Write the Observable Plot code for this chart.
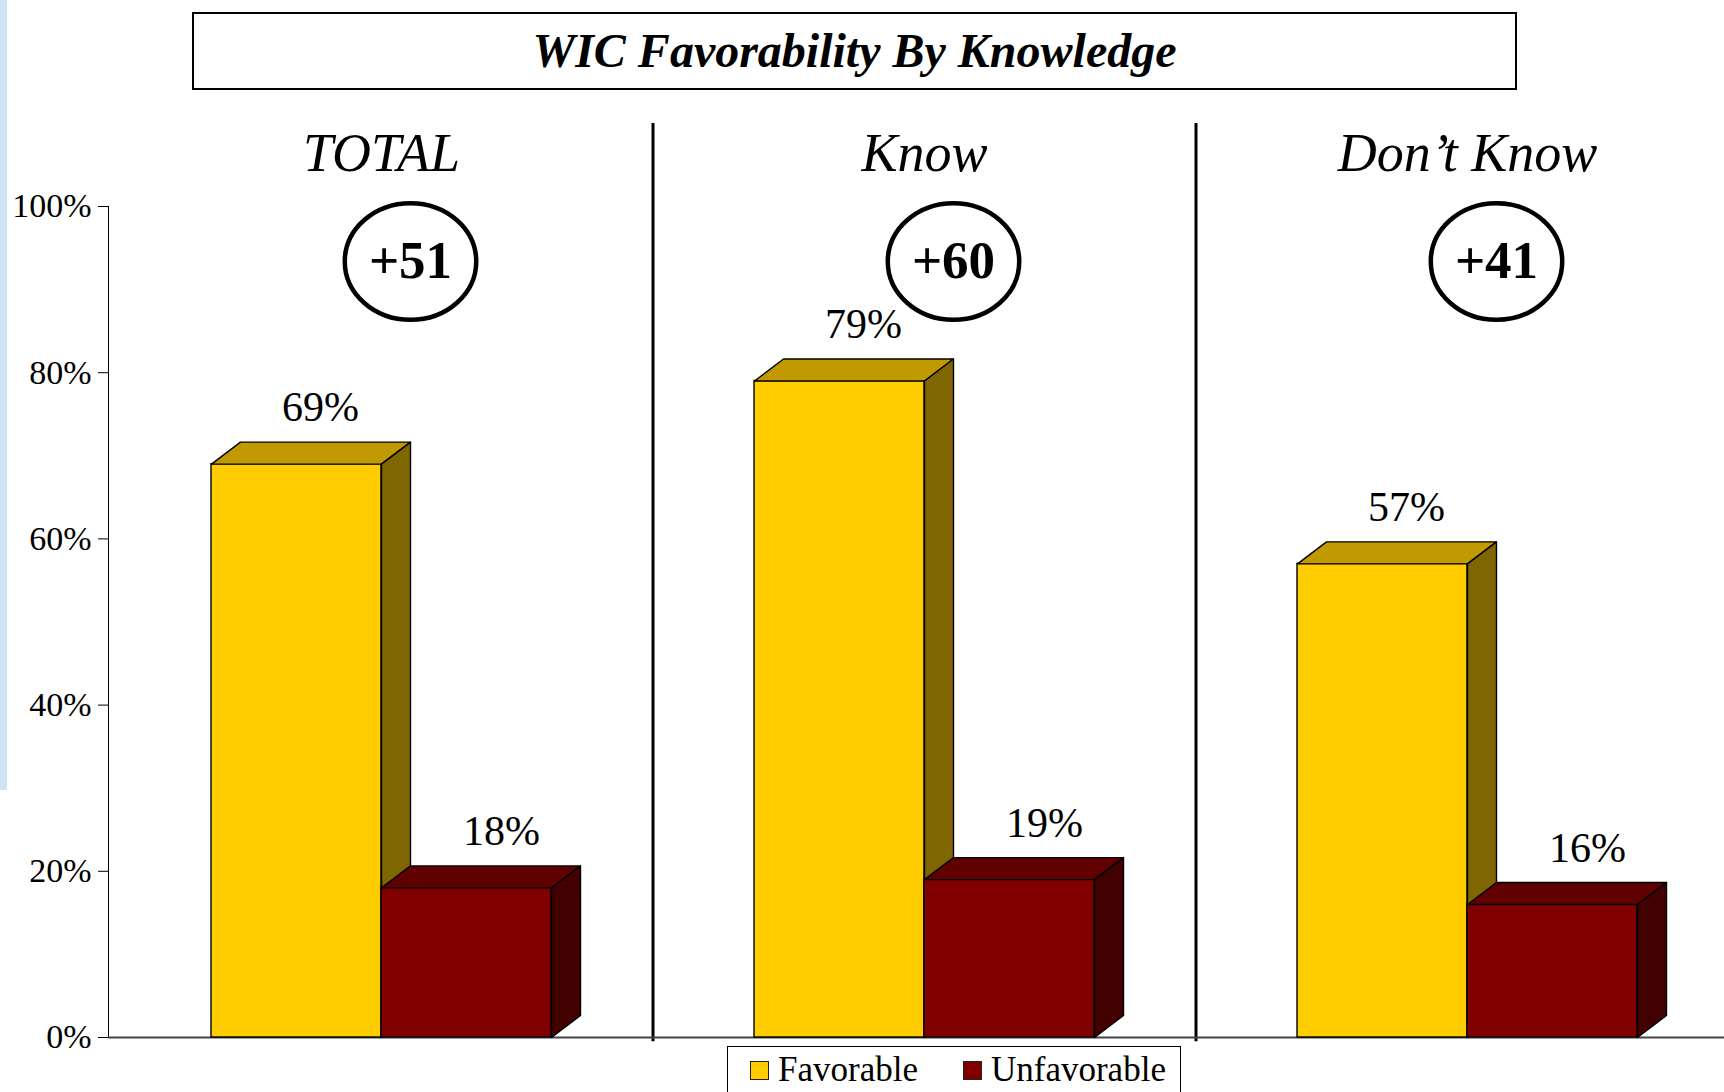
<!DOCTYPE html>
<html><head><meta charset="utf-8">
<script src="https://cdn.jsdelivr.net/npm/d3@7"></script>
<script src="https://cdn.jsdelivr.net/npm/@observablehq/plot@0.6"></script>
<style>
html,body{margin:0;padding:0;background:#fff;overflow:hidden;}
body{width:1724px;height:1092px;position:relative;font-family:"Liberation Serif","Times New Roman",serif;color:#000;}
#strip{position:absolute;left:0;top:0;width:7px;height:790px;background:#cfe2f6;}
#titlewrap{height:100px;position:relative;}
#title{position:absolute;left:192px;top:12px;width:1321px;height:74px;border:2px solid #000;text-align:center;line-height:74px;font-weight:bold;font-style:italic;font-size:48px;}
#chart svg{display:block;}
#legend{position:relative;margin-left:727px;margin-top:-4px;width:454px;height:70px;border:1.5px solid #000;box-sizing:border-box;}
.item{position:absolute;top:8px;height:30px;display:flex;align-items:center;font-size:35px;line-height:30px;}
.sw{width:17px;height:17px;border:1.5px solid #222;margin-right:9px;}
</style>
</head><body>
<div id="strip"></div>
<div id="titlewrap"><div id="title">WIC Favorability By Knowledge</div></div>
<div id="chart"></div>
<div id="legend"></div>
<script>
// ---- data ----
const groups = ["TOTAL", "Know", "Don’t Know"];
const series = ["Favorable", "Unfavorable"];
const favorable = [69, 79, 57];
const unfavorable = [18, 19, 16];
const yTicks = [0, 20, 40, 60, 80, 100];

// ---- styling ----
const colors = {
  Favorable: {front: "#FFCC00", top: "#C09A00", side: "#806600", labelDx: 24},
  Unfavorable: {front: "#800000", top: "#600000", side: "#420000", labelDx: 35}
};
const FONT = "Liberation Serif, Times New Roman, serif";
const w = 170 / 543;      // bar width in group units
const dX = 29 / 543;      // 3D depth (x, group units)
const dY = 22 / 8.31;     // 3D depth (y, percent units)

const bars = [];
groups.forEach((g, i) => {
  series.forEach((s, j) => {
    const v = (j === 0 ? favorable : unfavorable)[i];
    const x1 = j === 0 ? i - w : i;
    bars.push({group: g, series: s, value: v, i, x1, x2: x1 + w});
  });
});
const diffs = groups.map((g, i) => ({group: g, i, text: "+" + (favorable[i] - unfavorable[i])}));
const groupRows = groups.map((g, i) => ({group: g, i}));

function faces(s, kind) {
  return bars.filter(b => b.series === s).flatMap(b => kind === "top" ? [
    {id: b.group, x: b.x1, y: b.value},
    {id: b.group, x: b.x1 + dX, y: b.value + dY},
    {id: b.group, x: b.x2 + dX, y: b.value + dY},
    {id: b.group, x: b.x2, y: b.value}
  ] : [
    {id: b.group, x: b.x2, y: 0},
    {id: b.group, x: b.x2, y: b.value},
    {id: b.group, x: b.x2 + dX, y: b.value + dY},
    {id: b.group, x: b.x2 + dX, y: dY}
  ]);
}

const ellipse = {draw(ctx, size) {
  const r = Math.sqrt(size / Math.PI), rx = r * 1.06, ry = r * 0.94, k = 0.5523;
  ctx.moveTo(rx, 0);
  ctx.bezierCurveTo(rx, ry * k, rx * k, ry, 0, ry);
  ctx.bezierCurveTo(-rx * k, ry, -rx, ry * k, -rx, 0);
  ctx.bezierCurveTo(-rx, -ry * k, -rx * k, -ry, 0, -ry);
  ctx.bezierCurveTo(rx * k, -ry, rx, -ry * k, rx, 0);
  ctx.closePath();
}};

const barMarks = [];
const labelMarks = [];
series.forEach(s => {
  const c = colors[s];
  const data = bars.filter(b => b.series === s);
  barMarks.push(
    Plot.rectY(data, {x1: "x1", x2: "x2", y1: 0, y2: "value", fill: c.front, stroke: "#000", strokeWidth: 1.4}),
    Plot.line(faces(s, "top"), {x: "x", y: "y", z: "id", curve: "linear-closed", fill: c.top, stroke: "#000", strokeWidth: 1.4}),
    Plot.line(faces(s, "side"), {x: "x", y: "y", z: "id", curve: "linear-closed", fill: c.side, stroke: "#000", strokeWidth: 1.4})
  );
  labelMarks.push(
    Plot.text(data, {x: b => (b.x1 + b.x2) / 2, y: b => b.value + dY, text: b => b.value + "%",
      dx: c.labelDx, lineAnchor: "bottom", dy: -21, fontSize: 42, fontFamily: FONT, fill: "#000"})
  );
});

const plot = Plot.plot({
  width: 1724,
  height: 950,
  marginLeft: 108,
  marginRight: 0,
  marginTop: 106,
  marginBottom: 13,
  style: {fontFamily: FONT, fontSize: "34px", color: "#000", background: "transparent", overflow: "visible"},
  x: {type: "linear", domain: [0, 2], range: [381, 1467], axis: null},
  y: {domain: [0, 100], ticks: yTicks, tickFormat: d => d + "%", tickSize: 10, tickPadding: 7, line: true, label: null},
  marks: [
    Plot.ruleX([0.5, 1.5], {x: d => d, y1: -0.5, y2: 110, stroke: "#000", strokeWidth: 3}),
    Plot.ruleY([0], {stroke: "#444", strokeWidth: 2}),
    ...barMarks,
    ...labelMarks,
    Plot.textX(groupRows, {x: "i", text: "group", frameAnchor: "top", lineAnchor: "bottom", dy: -36, dx: 0,
      fontSize: 54, fontStyle: "italic", fontFamily: FONT, fill: "#000"}),
    Plot.dotX(diffs, {x: "i", frameAnchor: "top", dy: 55, dx: 29, r: 62, symbol: ellipse, fill: "none", stroke: "#000", strokeWidth: 4.5}),
    Plot.textX(diffs, {x: "i", text: "text", frameAnchor: "top", dy: 55, dx: 29, lineAnchor: "middle",
      fontSize: 53, fontWeight: "bold", fontFamily: FONT, fill: "#000"})
  ]
});
document.getElementById("chart").appendChild(plot);

// legend
const legend = document.getElementById("legend");
const lefts = [22, 235];
series.forEach((s, j) => {
  const it = document.createElement("div");
  it.className = "item";
  it.style.left = lefts[j] + "px";
  const sw = document.createElement("span");
  sw.className = "sw";
  sw.style.background = colors[s].front;
  const t = document.createElement("span");
  t.textContent = s;
  it.appendChild(sw); it.appendChild(t);
  legend.appendChild(it);
});
</script>
</body></html>
